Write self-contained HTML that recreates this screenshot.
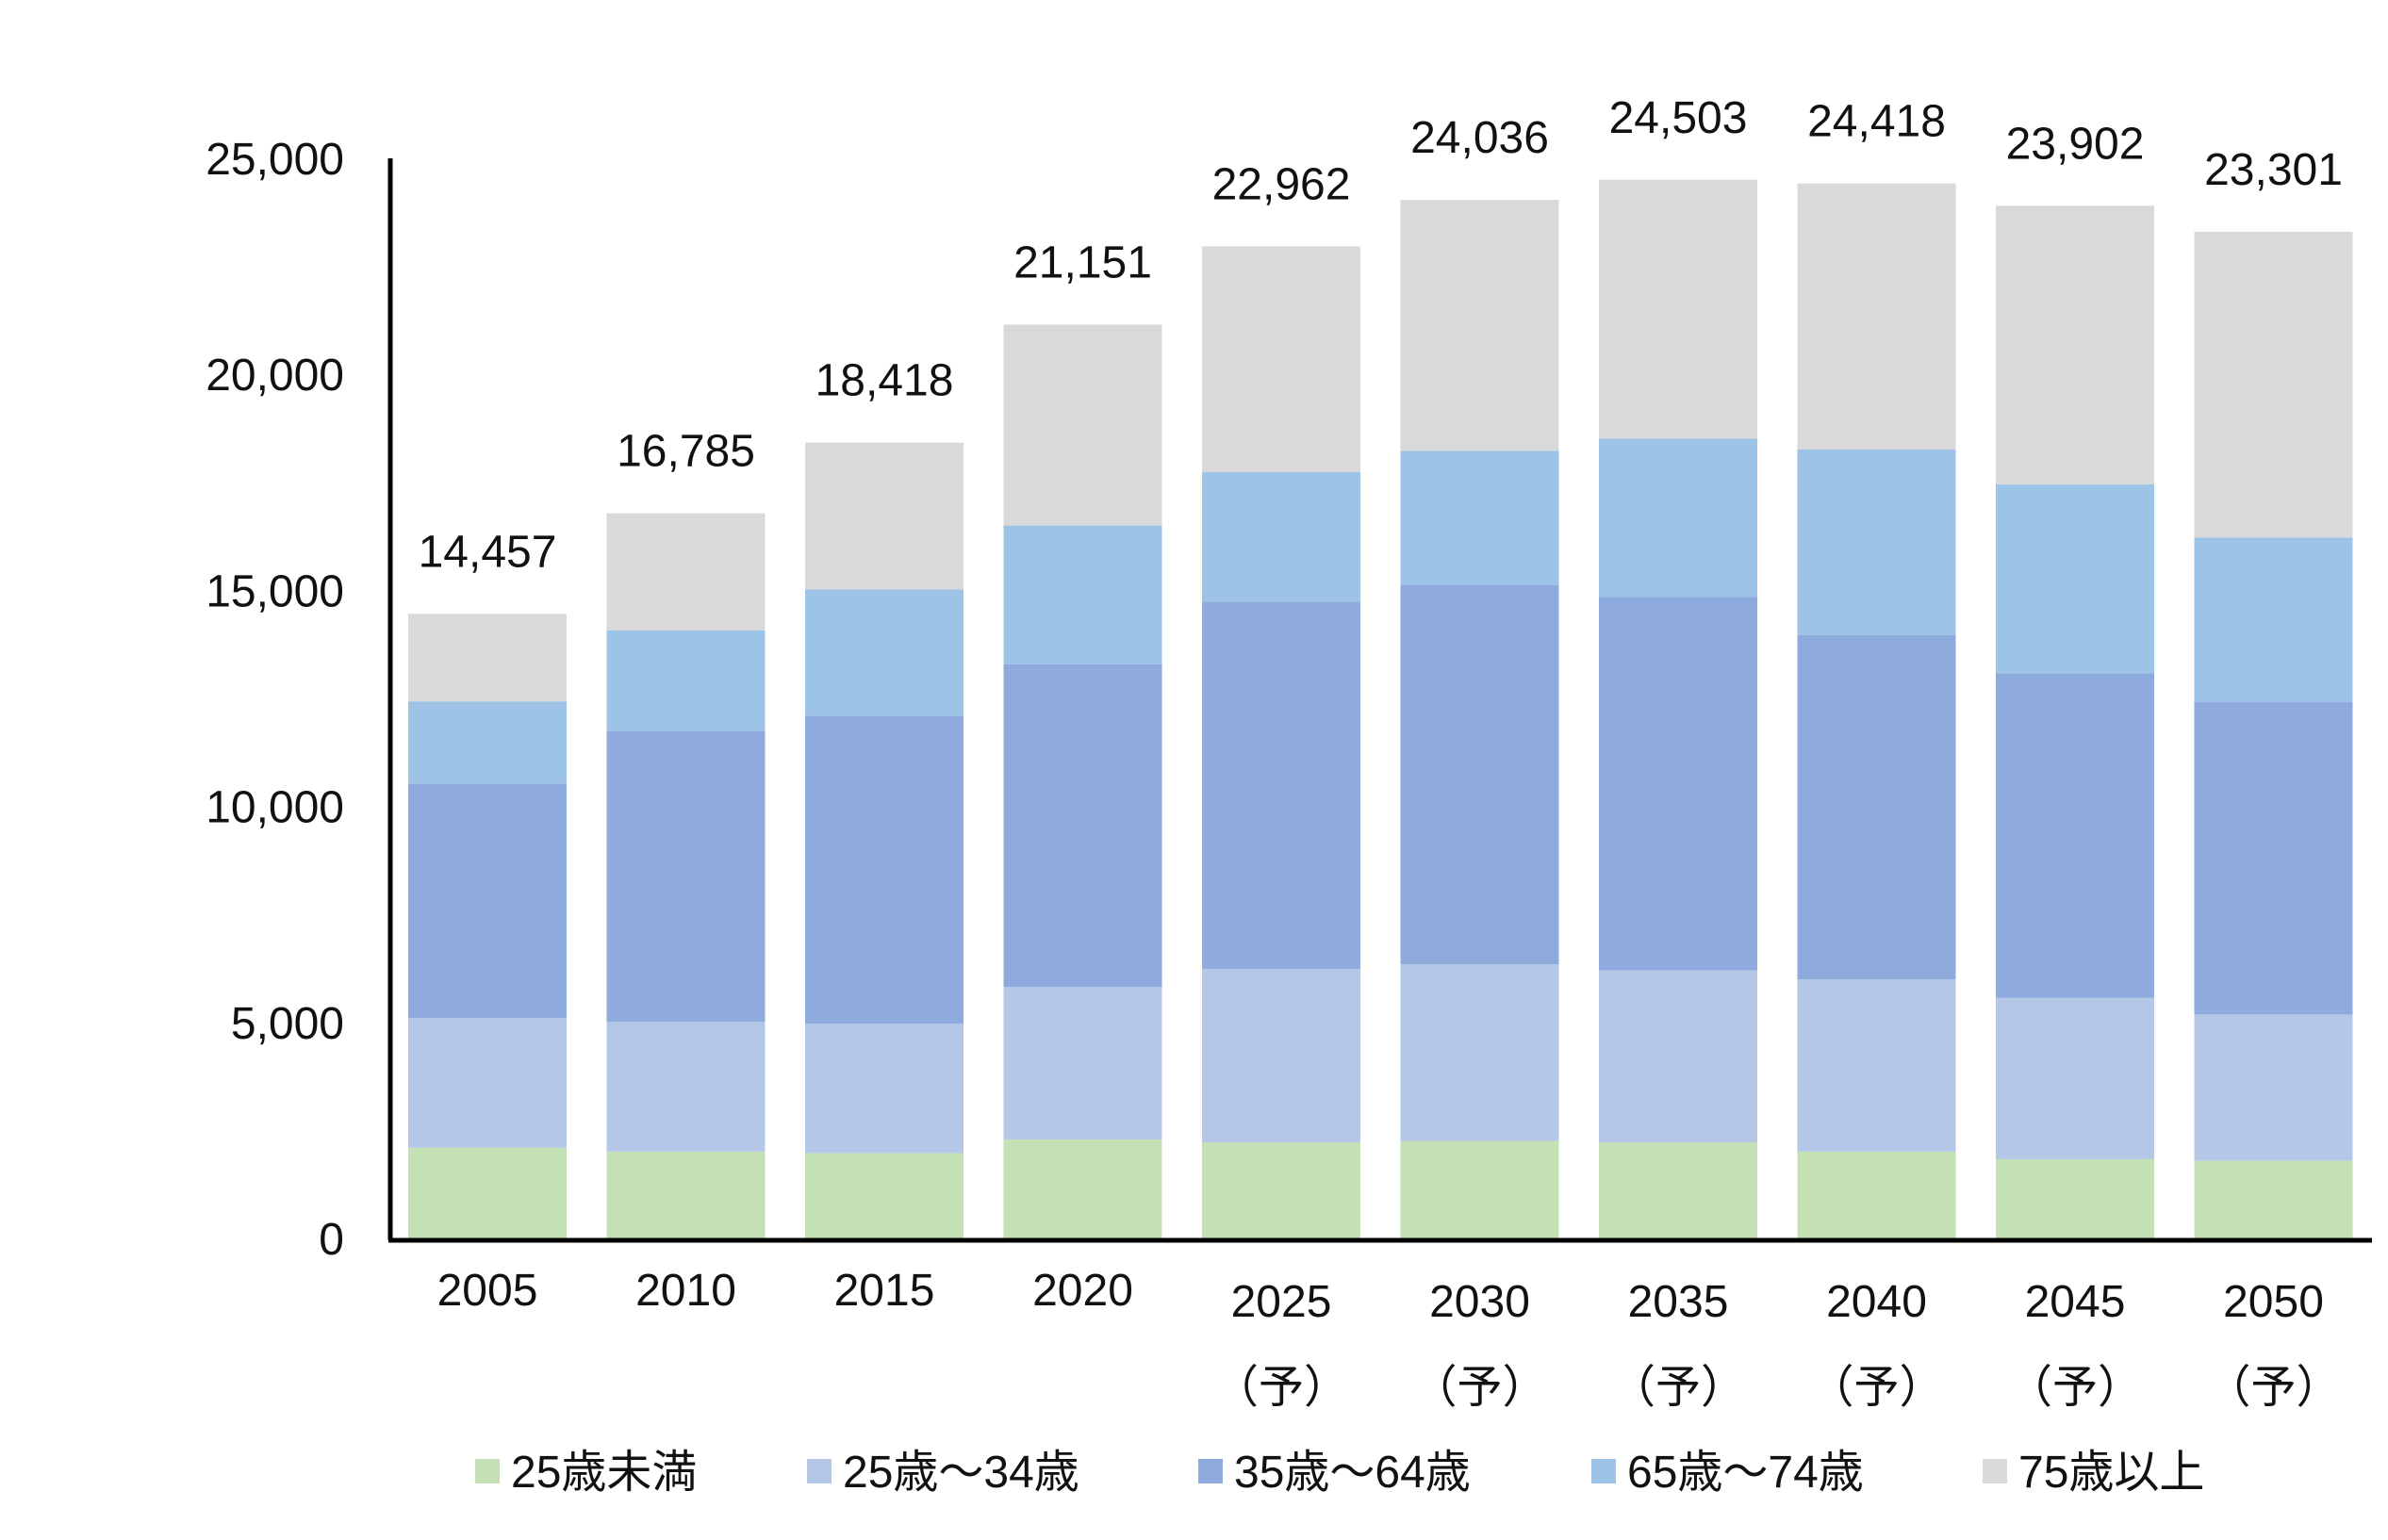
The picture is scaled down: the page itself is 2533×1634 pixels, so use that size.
<!DOCTYPE html>
<html><head><meta charset="utf-8"><style>
body{margin:0;background:#fff;}
svg text{font-family:"Liberation Sans","Noto Sans CJK JP",sans-serif;fill:#111;}
</style></head><body>
<svg id="chart" width="2533" height="1629" viewBox="0 0 2533 1629" xmlns="http://www.w3.org/2000/svg">
<g id="bars"></g>
<g id="labels"></g>
<line x1="414" y1="168" x2="414" y2="1316" stroke="#000" stroke-width="5"/>
<line x1="412" y1="1316" x2="2516" y2="1316" stroke="#000" stroke-width="5"/>
<g id="legend"></g>
</svg>
<script>
const categories=["2005","2010","2015","2020","2025","2030","2035","2040","2045","2050"];
const projected=[false,false,false,false,true,true,true,true,true,true];
const under25=[2100,2010,1975,2292,2221,2257,2221,2010,1834,1798];
const age25to34=[3000,3000,2997,3526,4020,4090,3985,3984,3737,3385];
const age35to64=[5430,6735,7123,7475,8498,8780,8639,7969,7511,7229];
const age65to74=[1900,2327,2926,3209,2997,3103,3667,4302,4372,3808];
const age75plus=[2027,2713,3397,4649,5226,5806,5991,6153,6448,7081];
const totals=[14457,16785,18418,21151,22962,24036,24503,24418,23902,23301];
const yTicks=[0,5000,10000,15000,20000,25000];
const seriesNames=["25歳未満","25歳～34歳","35歳～64歳","65歳～74歳","75歳以上"];
const series=[under25,age25to34,age35to64,age65to74,age75plus];
const colors=["#c5e0b4","#b4c7e7","#8faadc","#9dc3e6","#d9d9d9"];
const NS="http://www.w3.org/2000/svg";
const y0=1314,yTop=168,yMax=25000;
function yScale(v){return y0-(v/yMax)*(y0-yTop);}
const barW=168,step=210.5,x0=433;
function xScale(i){return x0+i*step;}
const bars=document.getElementById('bars'),labels=document.getElementById('labels'),legend=document.getElementById('legend');
function mk(tag,attrs,parent){const e=document.createElementNS(NS,tag);for(const k in attrs)e.setAttribute(k,attrs[k]);parent.appendChild(e);return e;}
categories.forEach((c,i)=>{
  let cum=0;
  series.forEach((s,j)=>{
    const r=mk('rect',{x:xScale(i),y:yScale(cum+s[i]),width:barW,height:yScale(cum)-yScale(cum+s[i]),fill:colors[j]},bars);
    
    
    cum+=s[i];
  });
  const topY=yScale(under25[i]+age25to34[i]+age35to64[i]+age65to74[i]+age75plus[i]);
  const t=mk('text',{x:xScale(i)+barW/2,y:topY-50,'text-anchor':'middle','font-size':'48'},labels);
  t.textContent=totals[i].toLocaleString('en-US');
  
  
  const xl=mk('text',{x:xScale(i)+barW/2,y:projected[i]?1397:1385,'text-anchor':'middle','font-size':'48'},labels);
  xl.textContent=c;
  
  
  if(projected[i]){
    const p=mk('text',{x:xScale(i)+barW/2,y:1488,'text-anchor':'middle','font-size':'48'},labels);
    p.textContent='（予）';
    
    
  }
});
yTicks.forEach(v=>{
  const t=mk('text',{x:365,y:yScale(v)+17,'text-anchor':'end','font-size':'48'},labels);
  t.textContent=v.toLocaleString('en-US');
  
  
});
const legX=[504,856,1271,1688,2103];
seriesNames.forEach((n,j)=>{
  const r=mk('rect',{x:legX[j],y:1548,width:26,height:26,fill:colors[j]},legend);
  
  
  const t=mk('text',{x:legX[j]+38,y:1578,'font-size':'48'},legend);
  t.textContent=n;
  
  
});
</script>
</body></html>
